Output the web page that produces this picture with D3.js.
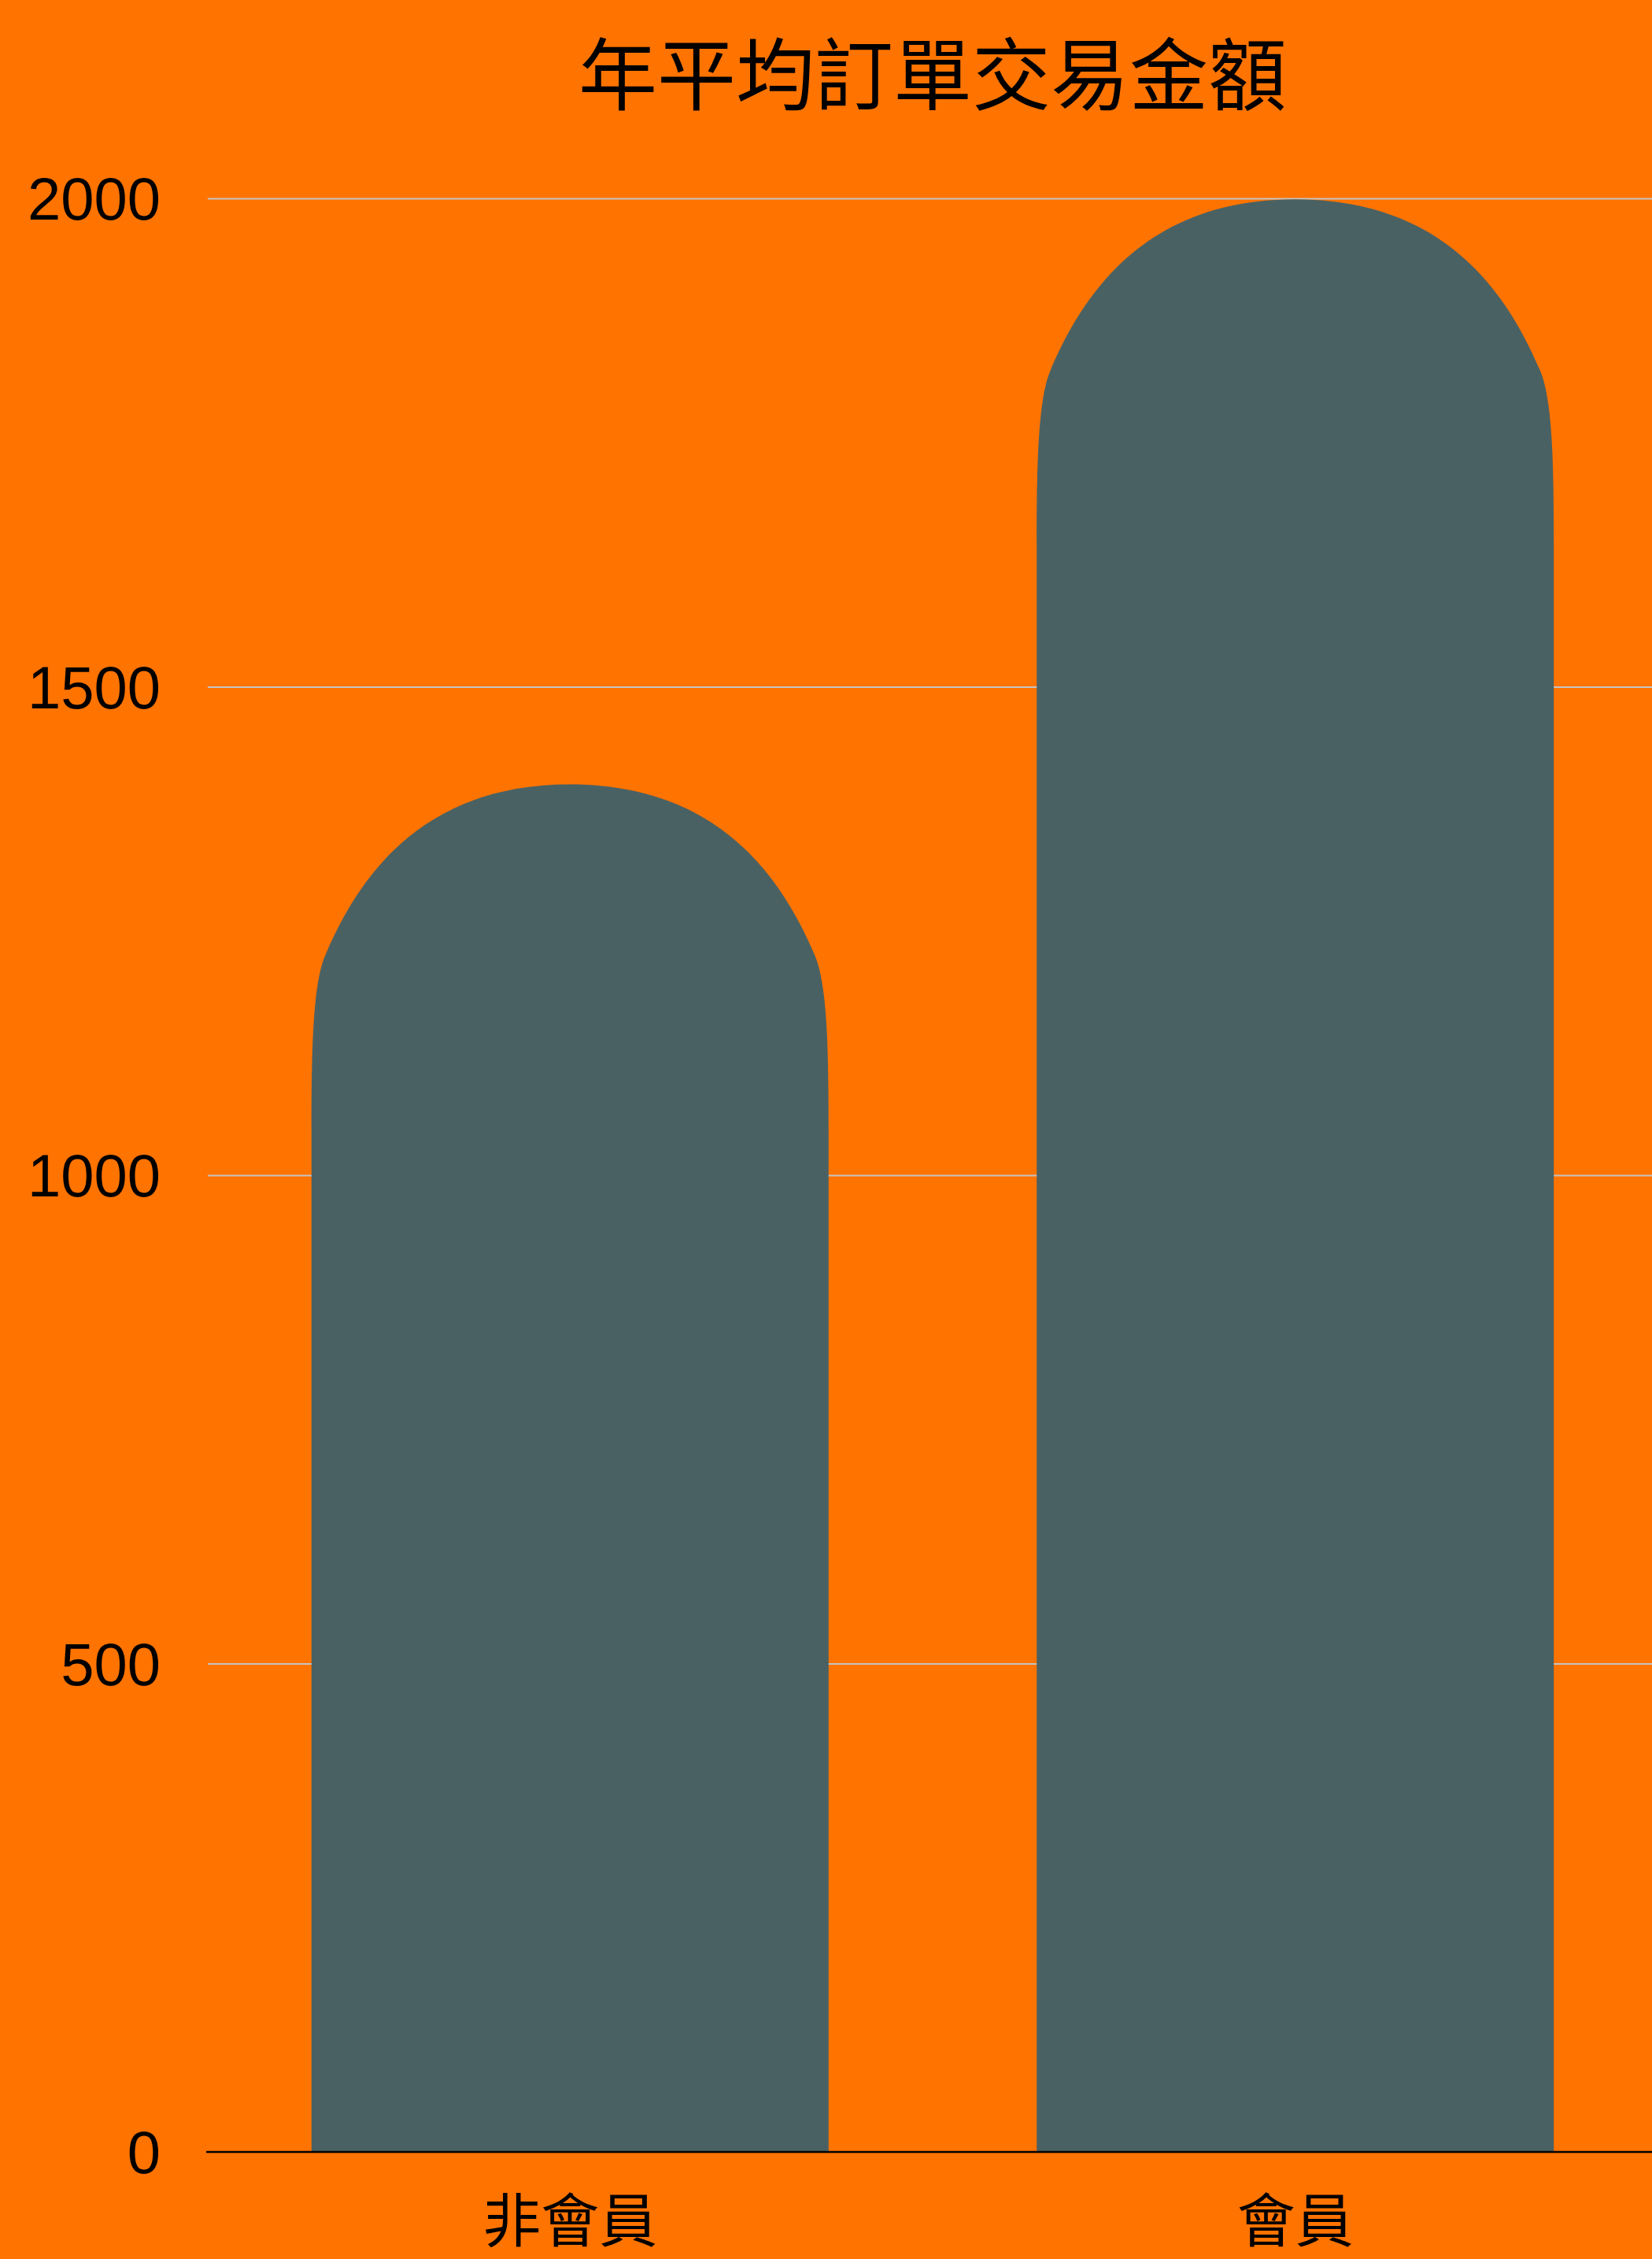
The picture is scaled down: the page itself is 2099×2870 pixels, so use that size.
<!DOCTYPE html>
<html>
<head>
<meta charset="utf-8">
<script src="https://cdn.jsdelivr.net/npm/d3@7"></script>
<style>
  html, body { margin: 0; padding: 0; background: #ff7300; }
  svg { display: block; }
</style>
</head>
<body>
<svg id="chart"></svg>
<script>
// Average annual order value, members vs non-members
const title = "年平均訂單交易金額";
const categories = ["非會員", "會員"];
const values = [1400, 1999];
const yTicks = [0, 500, 1000, 1500, 2000];

const W = 2099, H = 2870;
const margin = { top: 252, left: 264, bottom: 136 };
const plotRight = 2106;

const svg = d3.select("#chart").attr("width", W).attr("height", H);

svg.append("rect").attr("width", W).attr("height", H).attr("fill", "#ff7300");

const y = d3.scaleLinear().domain([0, 2000]).range([H - margin.bottom, margin.top]);
const x = d3.scaleBand().domain(categories)
  .range([margin.left, plotRight])
  .paddingInner(0.287)
  .paddingOuter(0.143);

// horizontal gridlines and value labels
const yAxis = d3.axisLeft(y)
  .tickValues(yTicks)
  .tickSize(-(W - margin.left))
  .tickPadding(60)
  .tickFormat(d3.format("d"));

const gy = svg.append("g")
  .attr("transform", `translate(${margin.left},0)`)
  .call(yAxis);
gy.select(".domain").remove();
gy.selectAll(".tick line")
  .attr("stroke", "#c4c4c4")
  .attr("stroke-width", 2)
  .attr("opacity", d => d === 0 ? 0 : 1);
gy.selectAll(".tick text")
  .attr("fill", "#000")
  .attr("font-family", "'Liberation Sans', Arial, Helvetica, sans-serif")
  .attr("font-size", 76)
  .attr("dy", "0.35em");

// bar with a soft dome-shaped top
function domeBar(x0, w, yTop, yBottom) {
  const x1 = x0 + w;
  const full = 0.67 * w;
  const s = Math.min(1, (yBottom - yTop) / full);
  const p = d3.path();
  p.moveTo(x0, yBottom);
  p.lineTo(x0, yTop + full * s);
  p.bezierCurveTo(x0, yTop + 0.515 * w * s,
                  x0 + 0.00228 * w, yTop + 0.3875 * w * s,
                  x0 + 0.0265 * w, yTop + 0.331 * w * s);
  p.bezierCurveTo(x0 + 0.0976 * w, yTop + 0.1623 * w * s,
                  x0 + 0.2264 * w, yTop,
                  x0 + 0.5 * w, yTop);
  p.bezierCurveTo(x1 - 0.2264 * w, yTop,
                  x1 - 0.0976 * w, yTop + 0.1623 * w * s,
                  x1 - 0.0265 * w, yTop + 0.331 * w * s);
  p.bezierCurveTo(x1 - 0.00228 * w, yTop + 0.3875 * w * s,
                  x1, yTop + 0.515 * w * s,
                  x1, yTop + full * s);
  p.lineTo(x1, yBottom);
  p.closePath();
  return p.toString();
}

const data = categories.map((c, i) => ({ category: c, value: values[i] }));

svg.append("g").selectAll("path")
  .data(data)
  .join("path")
  .attr("d", d => domeBar(x(d.category), x.bandwidth(), y(d.value), y(0)))
  .attr("fill", "#4a6163");

// baseline
svg.append("line")
  .attr("x1", margin.left - 2).attr("x2", W)
  .attr("y1", y(0)).attr("y2", y(0))
  .attr("stroke", "#000")
  .attr("stroke-width", 2.5);

// category labels
const xAxis = d3.axisBottom(x).tickSize(0).tickPadding(81);
const gx = svg.append("g")
  .attr("transform", `translate(0,${y(0)})`)
  .call(xAxis);
gx.select(".domain").remove();
gx.selectAll(".tick text")
  .attr("fill", "#000")
  .attr("font-family", "'Noto Sans CJK TC', 'Noto Sans CJK SC', sans-serif")
  .attr("font-size", 74)
  .attr("dy", 0)
  .attr("dominant-baseline", "central");

// title
svg.append("text")
  .attr("x", (margin.left + plotRight) / 2)
  .attr("y", 88)
  .attr("text-anchor", "middle")
  .attr("dominant-baseline", "central")
  .attr("font-family", "'Noto Sans CJK TC', 'Noto Sans CJK SC', sans-serif")
  .attr("font-size", 100)
  .attr("fill", "#000")
  .text(title);
</script>
</body>
</html>
